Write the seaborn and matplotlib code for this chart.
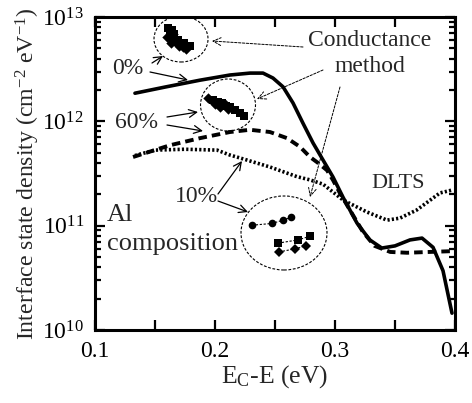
import numpy as np
import pandas as pd
import matplotlib
matplotlib.use("Agg")
import matplotlib.pyplot as plt
from matplotlib.patches import Ellipse
from matplotlib.ticker import LogLocator, FixedLocator, NullFormatter, FuncFormatter
import seaborn as sns

# ---------------- data ----------------
x_0 = [0.1333, 0.1583, 0.1875, 0.2125, 0.2292, 0.24, 0.2483, 0.2567, 0.265, 0.2733,
       0.2817, 0.29, 0.2983, 0.3067, 0.3183, 0.329, 0.339, 0.35, 0.3625, 0.3725,
       0.3817, 0.39, 0.3975]
y_0 = [1.86e12, 2.13e12, 2.48e12, 2.78e12, 2.9e12, 2.9e12, 2.6e12, 2.14e12, 1.5e12, 9.6e11,
       6.2e11, 4.26e11, 2.93e11, 1.87e11, 1.06e11, 7.3e10, 6.1e10, 6.4e10, 7.3e10, 7.6e10,
       6.2e10, 3.7e10, 1.45e10]

x_60 = [0.1317, 0.1625, 0.1875, 0.2125, 0.2292, 0.2458, 0.26, 0.2708, 0.2792, 0.2858,
        0.2933, 0.2983, 0.304, 0.3125, 0.3233, 0.333, 0.346, 0.36, 0.379, 0.398]
y_60 = [4.55e11, 5.9e11, 6.9e11, 7.9e11, 8.3e11, 7.9e11, 6.9e11, 5.7e11, 4.55e11, 4.0e11,
        3.4e11, 2.74e11, 2.06e11, 1.41e11, 8.7e10, 6.4e10, 5.6e10, 5.5e10, 5.6e10, 5.7e10]

x_10 = [0.1333, 0.15, 0.175, 0.2017, 0.2125, 0.221, 0.2458, 0.2683, 0.279, 0.29,
        0.3067, 0.3267, 0.3433, 0.354, 0.368, 0.3875, 0.398]
y_10 = [4.7e11, 5.3e11, 5.4e11, 5.3e11, 4.75e11, 4.45e11, 3.65e11, 2.95e11, 2.75e11, 2.5e11,
        1.76e11, 1.35e11, 1.13e11, 1.18e11, 1.41e11, 2.06e11, 2.2e11]

# conductance-method clusters
c0_sq_x = [0.1608, 0.1625, 0.1658, 0.1675, 0.1708, 0.1790, 0.1690, 0.1640, 0.1660, 0.1740]
c0_sq_y = [7.85e12, 7.2e12, 6.6e12, 5.75e12, 5.5e12, 5.3e12, 6.0e12, 7.5e12, 6.9e12, 5.6e12]
c0_di_x = [0.1600, 0.1642, 0.1650, 0.1700, 0.1733, 0.1760, 0.1630, 0.1690]
c0_di_y = [6.4e12, 6.0e12, 6.9e12, 5.3e12, 5.15e12, 4.9e12, 5.6e12, 5.75e12]

c60_sq_x = [0.1980, 0.2025, 0.2060, 0.2090, 0.2125, 0.2167, 0.2208, 0.2240]
c60_sq_y = [1.60e12, 1.53e12, 1.50e12, 1.40e12, 1.37e12, 1.28e12, 1.20e12, 1.12e12]
c60_di_x = [0.1940, 0.2000, 0.2040, 0.2080, 0.2110]
c60_di_y = [1.67e12, 1.45e12, 1.36e12, 1.47e12, 1.30e12]

c10_ci_x = [0.2308, 0.2475, 0.2567, 0.2633]
c10_ci_y = [1.01e11, 1.05e11, 1.13e11, 1.2e11]
c10_sq_x = [0.2525, 0.2690, 0.2790]
c10_sq_y = [6.8e10, 7.3e10, 7.9e10]
c10_di_x = [0.2533, 0.2667, 0.2758]
c10_di_y = [5.6e10, 6.0e10, 6.4e10]

x_ticks = [0.1, 0.2, 0.3, 0.4]
x_minor = [0.15, 0.25, 0.35]
y_ticks = [1e10, 1e11, 1e12, 1e13]

# ---------------- style ----------------
sns.set_style("ticks")
plt.rcParams['font.family'] = ['Liberation Serif', 'DejaVu Serif']
plt.rcParams['mathtext.fontset'] = 'custom'
plt.rcParams['mathtext.rm'] = 'Liberation Serif'
plt.rcParams['mathtext.it'] = 'Liberation Serif:italic'
plt.rcParams['mathtext.bf'] = 'Liberation Serif:bold'

fig = plt.figure(figsize=(4.72, 4.03), dpi=100)
ax = fig.add_axes([95/472, 1-330/403, 360/472, 313/403])

K = 'black'
sns.lineplot(x=x_0, y=y_0, ax=ax, color=K, lw=2.6, sort=False)
sns.lineplot(x=x_60, y=y_60, ax=ax, color=K, lw=2.8, sort=False, linestyle=(0, (2.2, 1.3)))
sns.lineplot(x=x_10, y=y_10, ax=ax, color=K, lw=2.6, sort=False, linestyle=(0, (0.6, 0.6)))

sns.scatterplot(x=c0_sq_x, y=c0_sq_y, ax=ax, marker='s', s=38, color=K, edgecolor=K, linewidth=0)
sns.scatterplot(x=c0_di_x, y=c0_di_y, ax=ax, marker='D', s=28, color=K, edgecolor=K, linewidth=0)
sns.scatterplot(x=c60_sq_x, y=c60_sq_y, ax=ax, marker='s', s=38, color=K, edgecolor=K, linewidth=0)
sns.scatterplot(x=c60_di_x, y=c60_di_y, ax=ax, marker='D', s=28, color=K, edgecolor=K, linewidth=0)

for xs, ys, m, s in [(c10_ci_x, c10_ci_y, 'o', 5.5), (c10_sq_x, c10_sq_y, 's', 6), (c10_di_x, c10_di_y, 'D', 5)]:
    sns.lineplot(x=xs, y=ys, ax=ax, color=K, lw=0.8, linestyle=(0, (2, 1.5)), sort=False,
                 marker=m, markersize=s, markeredgewidth=0)

ax.set_yscale('log')
ax.set_xlim(0.1, 0.4)
ax.set_ylim(1e10, 1e13)

ax.xaxis.set_major_locator(FixedLocator(x_ticks))
ax.xaxis.set_minor_locator(FixedLocator(x_minor))
ax.set_xticklabels([f"{v:.1f}" for v in x_ticks])
ax.yaxis.set_major_locator(FixedLocator(y_ticks))
ax.yaxis.set_major_formatter(FuncFormatter(lambda v, p: r"$\mathrm{10}^{%d}$" % int(round(np.log10(v)))))
ax.yaxis.set_minor_locator(LogLocator(base=10, subs=np.arange(2, 10)))
ax.yaxis.set_minor_formatter(NullFormatter())

ax.tick_params(which='both', direction='in', top=True, right=True, width=1.6, labelsize=17, colors=K)
ax.tick_params(which='major', length=7, pad=8)
ax.tick_params(which='minor', length=4.5)
ax.tick_params(axis='x', which='minor', length=7)
for sp in ax.spines.values():
    sp.set_linewidth(2.2)
    sp.set_color(K)

ax.set_xlabel(r"E$_\mathrm{C}$-E (eV)", fontsize=18.5, labelpad=1)
ax.set_ylabel(r"Interface state density (cm$^{-2}$ eV$^{-1}$)", fontsize=17.2, labelpad=0)

def P(px, py):
    return ((px - 95) / 360, (330 - py) / 313)

# ellipses
for (cx, cy, w, h) in [(181, 39, 54, 46), (228, 105, 55, 52), (284, 233, 86, 74)]:
    c = P(cx, cy)
    ax.add_patch(Ellipse(c, w/360, h/313, transform=ax.transAxes, fill=False,
                         ls=(0, (2.5, 1.5)), lw=0.8, color=K))

fs = 17
ax.text(*P(128, 69), "0%", transform=ax.transAxes, ha='center', va='center', fontsize=fs)
ax.text(*P(136, 122), "60%", transform=ax.transAxes, ha='center', va='center', fontsize=fs)
ax.text(*P(196, 197), "10%", transform=ax.transAxes, ha='center', va='center', fontsize=fs)
ax.text(*P(107, 215), "Al", transform=ax.transAxes, ha='left', va='center', fontsize=19)
ax.text(*P(107, 244), "composition", transform=ax.transAxes, ha='left', va='center', fontsize=19)
ax.text(*P(370, 41), "Conductance", transform=ax.transAxes, ha='center', va='center', fontsize=fs)
ax.text(*P(370, 67), "method", transform=ax.transAxes, ha='center', va='center', fontsize=fs)
ax.text(*P(398, 183), "DLTS", transform=ax.transAxes, ha='center', va='center', fontsize=16)

solid_arrows = [((152, 63), (163, 56)), ((150, 72), (188, 80)),
                ((167, 117), (198, 112)), ((167, 125), (203, 131)),
                ((218, 194), (242, 161)), ((218, 201), (248, 212))]
for (s, e) in solid_arrows:
    ax.annotate("", xy=P(*e), xytext=P(*s), xycoords='axes fraction', textcoords='axes fraction',
                arrowprops=dict(arrowstyle='->', lw=0.9, color=K, shrinkA=0, shrinkB=0,
                                mutation_scale=14))
dashed_arrows = [((303, 47), (212, 41)), ((323, 70), (257, 99)), ((340, 87), (310, 197))]
for (s, e) in dashed_arrows:
    ax.annotate("", xy=P(*e), xytext=P(*s), xycoords='axes fraction', textcoords='axes fraction',
                arrowprops=dict(arrowstyle='->', lw=0.7, color=K, ls=(0, (2.5, 1.5)),
                                shrinkA=0, shrinkB=0, mutation_scale=14))

fig.savefig("out.png", dpi=100)
